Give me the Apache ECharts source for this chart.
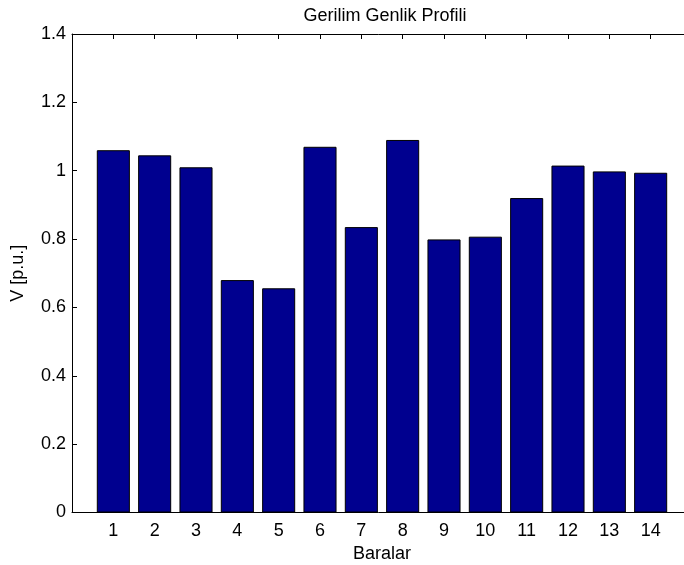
<!DOCTYPE html>
<html>
<head>
<meta charset="utf-8">
<script src="https://cdn.jsdelivr.net/npm/echarts@6/dist/echarts.min.js"></script>
<style>html,body{margin:0;padding:0;background:#fff;}#c{width:684px;height:565px;}</style>
</head>
<body>
<div id="c"></div>
<script>
const buses = [1,2,3,4,5,6,7,8,9,10,11,12,13,14];
const voltages = [1.060,1.045,1.010,0.680,0.656,1.070,0.835,1.090,0.799,0.807,0.920,1.015,0.998,0.994];
const yTicks = [0,0.2,0.4,0.6,0.8,1,1.2,1.4];
const titleText = 'Gerilim Genlik Profili';
const xName = 'Baralar';
const yName = 'V [p.u.]';

const font = 'Liberation Sans, Arial, sans-serif';
const fs = 18;
const chart = echarts.init(document.getElementById('c'), null, {renderer:'canvas'});
const gridLeft = 72, plotW = 620;
const xMin = 0, xMax = 15;
const barW = 0.8 * plotW / (xMax - xMin);

const axisLineStyle = {color:'#000', width:1};
chart.setOption({
  animation:false,
  backgroundColor:'#fff',
  title:{text:titleText, left:380, top:2, textAlign:'center',
    textStyle:{fontFamily:font, fontSize:fs, fontWeight:'normal', color:'#000'}},
  grid:{left:gridLeft, width:plotW, top:34, bottom:52.5, containLabel:false,
    outerBoundsMode:'none'},
  xAxis:[{
    type:'value', min:xMin, max:xMax, interval:1, position:'bottom',
    name:xName, nameLocation:'middle', nameGap:30,
    nameTextStyle:{fontFamily:font, fontSize:fs, color:'#000'},
    axisLine:{show:true, lineStyle:axisLineStyle},
    axisTick:{show:true, inside:true, length:5, lineStyle:axisLineStyle},
    axisLabel:{fontFamily:font, fontSize:fs, color:'#000', margin:10,
      formatter:v => buses.indexOf(v) >= 0 ? String(v) : ''},
    splitLine:{show:false}
  },{
    type:'value', min:xMin, max:xMax, interval:1, position:'top',
    axisLine:{show:true, lineStyle:axisLineStyle},
    axisTick:{show:true, inside:true, length:5, lineStyle:axisLineStyle,
      customValues: buses},
    axisLabel:{show:false},
    splitLine:{show:false}
  }],
  yAxis:[{
    type:'value', min:0, max:1.4, interval:0.2,
    name:yName, nameLocation:'middle', nameGap:45, nameRotate:90,
    nameTextStyle:{fontFamily:font, fontSize:fs, color:'#000'},
    axisLine:{show:true, lineStyle:axisLineStyle},
    axisTick:{show:true, inside:true, length:5, lineStyle:axisLineStyle},
    axisLabel:{fontFamily:font, fontSize:fs, color:'#000', margin:6,
      formatter:v => String(parseFloat(v.toFixed(1)))},
    splitLine:{show:false}
  }],
  series:[{
    type:'bar', xAxisIndex:0, yAxisIndex:0,
    data: buses.map((b,i)=>[b, voltages[i]]),
    barWidth: barW,
    itemStyle:{color:'#00008F', borderColor:'#000', borderWidth:1},
    z:1
  }]
});
</script>
</body>
</html>
